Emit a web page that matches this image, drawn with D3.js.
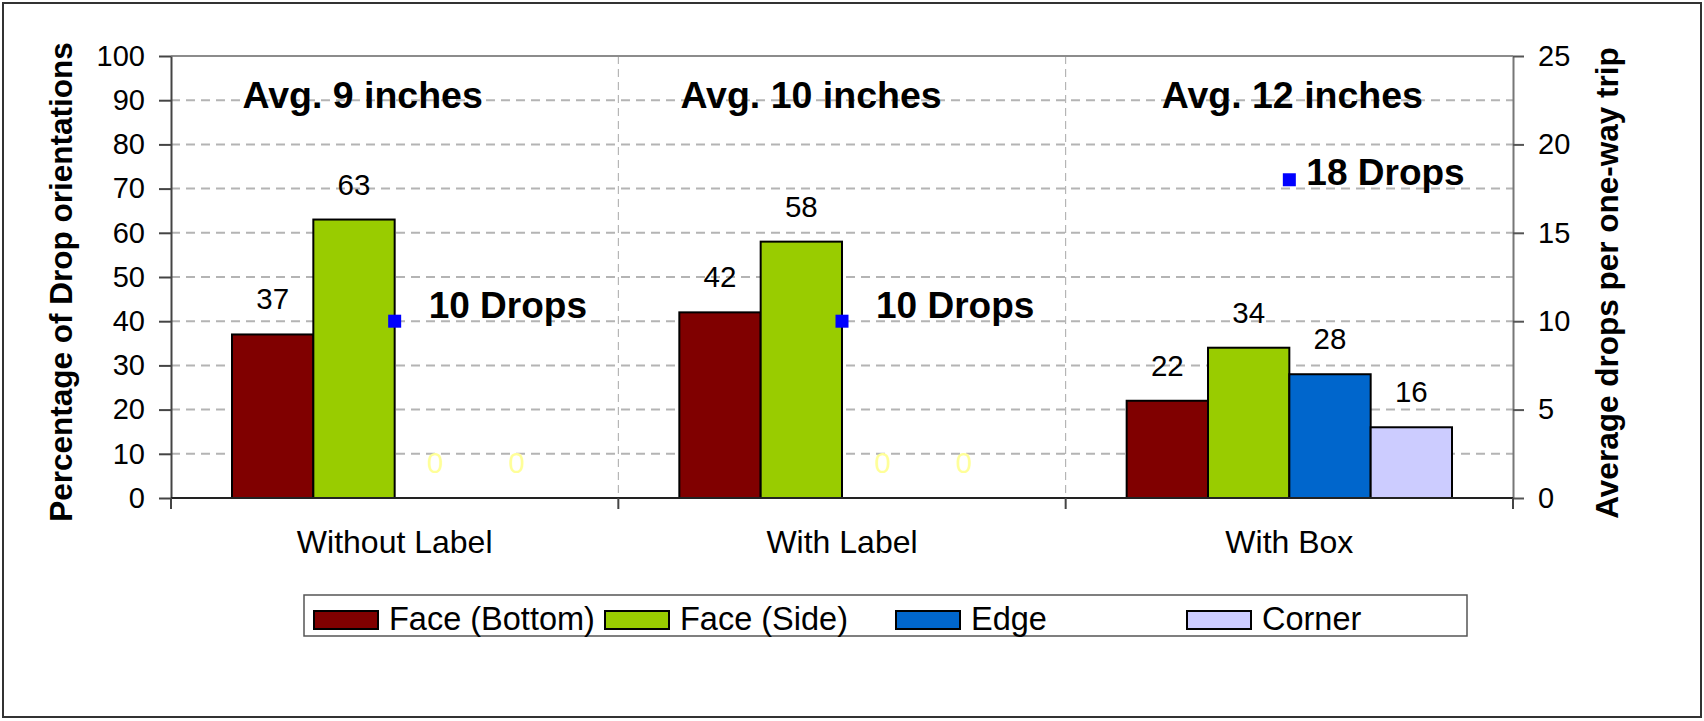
<!DOCTYPE html>
<html>
<head>
<meta charset="utf-8">
<script src="https://cdn.jsdelivr.net/npm/d3@7"></script>
<style>
body { margin: 0; background: #fff; }
text { font-family: "Liberation Sans", Arial, sans-serif; fill: #000; }
.tick text { font-size: 29px; }
.axis-title { font-size: 31.5px; font-weight: bold; }
.avg { font-size: 37.5px; font-weight: bold; }
.drops { font-size: 37px; font-weight: bold; }
.val { font-size: 29.5px; }
.cat-label { font-size: 32px; }
.legend-text { font-size: 32.5px; }
</style>
</head>
<body>
<div id="chart"></div>
<script>
/*global d3*/

var categories = ["Without Label", "With Label", "With Box"],
    series = ["Face (Bottom)", "Face (Side)", "Edge", "Corner"],
    colors = ["#800000", "#99cc00", "#0066cc", "#ccccff"],
    faceBottom = [37, 42, 22],
    faceSide = [63, 58, 34],
    edge = [0, 0, 28],
    corner = [0, 0, 16],
    avgDrops = [10, 10, 18],
    dropLabels = ["10 Drops", "10 Drops", "18 Drops"],
    avgLabels = ["Avg. 9 inches", "Avg. 10 inches", "Avg. 12 inches"],
    leftTicks = [0, 10, 20, 30, 40, 50, 60, 70, 80, 90, 100],
    rightTicks = [0, 5, 10, 15, 20, 25];

var widthGlobal = 1704,
    heightGlobal = 721,
    margin = {top: 56, right: 191, bottom: 223, left: 171},
    width = widthGlobal - margin.left - margin.right,
    height = heightGlobal - margin.top - margin.bottom,
    values = [faceBottom, faceSide, edge, corner];

// scales
var x0 = d3.scaleBand()
        .domain(categories)
        .range([0, width])
        .padding(0),
    x1 = d3.scaleBand()
        .domain(series)
        .range([0, x0.bandwidth()])
        .paddingInner(0)
        .paddingOuter(0.75),
    y = d3.scaleLinear().domain([0, 100]).range([height, 0]),
    y2 = d3.scaleLinear().domain([0, 25]).range([height, 0]),
    color = d3.scaleOrdinal().domain(series).range(colors);

var svg = d3.select("#chart").append("svg")
    .attr("width", widthGlobal)
    .attr("height", heightGlobal);

// outer frame
svg.append("rect")
    .attr("x", 3).attr("y", 3)
    .attr("width", widthGlobal - 6).attr("height", heightGlobal - 7)
    .attr("fill", "#fff")
    .attr("stroke", "#333")
    .attr("stroke-width", 2);

var g = svg.append("g")
    .attr("transform", "translate(" + margin.left + "," + margin.top + ")");

// grid
g.append("g").selectAll("line")
    .data(leftTicks.filter(function (d) { return d > 0 && d < 100; }))
    .enter().append("line")
    .attr("x1", 0).attr("x2", width)
    .attr("y1", function (d) { return y(d); })
    .attr("y2", function (d) { return y(d); })
    .attr("stroke", "#b4b4b4")
    .attr("stroke-width", 2)
    .attr("stroke-dasharray", "9,6");

g.append("g").selectAll("line")
    .data(categories.slice(1))
    .enter().append("line")
    .attr("x1", function (d) { return x0(d); })
    .attr("x2", function (d) { return x0(d); })
    .attr("y1", 0).attr("y2", height)
    .attr("stroke", "#a8a8a8")
    .attr("stroke-width", 1)
    .attr("stroke-dasharray", "8,5");

// top border of plot
g.append("line")
    .attr("x1", 0).attr("x2", width)
    .attr("y1", 0).attr("y2", 0)
    .attr("stroke", "#8c8c8c")
    .attr("stroke-width", 2);

// bars
var cat = g.append("g").selectAll(".cat")
    .data(categories)
    .enter().append("g")
    .attr("class", "cat")
    .attr("transform", function (d) { return "translate(" + x0(d) + ",0)"; });

cat.selectAll("rect")
    .data(function (d, i) { return series.map(function (s, j) { return {s: s, v: values[j][i]}; }); })
    .enter().append("rect")
    .attr("x", function (d) { return x1(d.s); })
    .attr("y", function (d) { return y(d.v); })
    .attr("width", x1.bandwidth())
    .attr("height", function (d) { return height - y(d.v); })
    .attr("fill", function (d) { return color(d.s); })
    .attr("stroke", function (d) { return d.v > 0 ? "#000" : "none"; })
    .attr("stroke-width", 2);

cat.selectAll(".val")
    .data(function (d, i) { return series.map(function (s, j) { return {s: s, v: values[j][i]}; }); })
    .enter().append("text")
    .attr("class", "val")
    .attr("text-anchor", "middle")
    .attr("x", function (d) { return x1(d.s) + x1.bandwidth() / 2; })
    .attr("y", function (d) { return y(d.v) - 25; })
    .style("fill", function (d) { return d.v > 0 ? "#000" : "#ffff99"; })
    .text(function (d) { return d.v; });

// axes
var leftAxis = g.append("g")
    .call(d3.axisLeft(y).tickValues(leftTicks).tickSize(12).tickSizeOuter(0).tickPadding(14));
leftAxis.select(".domain").attr("stroke", "#444").attr("stroke-width", 2);
leftAxis.selectAll(".tick line").attr("stroke", "#444").attr("stroke-width", 2);

var rightAxis = g.append("g")
    .attr("transform", "translate(" + width + ",0)")
    .call(d3.axisRight(y2).tickValues(rightTicks).tickSize(11).tickSizeOuter(0).tickPadding(14));
rightAxis.select(".domain").attr("stroke", "#777").attr("stroke-width", 2);
rightAxis.selectAll(".tick line").attr("stroke", "#555").attr("stroke-width", 2);

// x axis line and category ticks
g.append("line")
    .attr("x1", 0).attr("x2", width)
    .attr("y1", height).attr("y2", height)
    .attr("stroke", "#222")
    .attr("stroke-width", 2);
g.append("g").selectAll("line")
    .data(categories.map(function (d) { return x0(d); }).concat([width]))
    .enter().append("line")
    .attr("x1", function (d) { return d; })
    .attr("x2", function (d) { return d; })
    .attr("y1", height).attr("y2", height + 11)
    .attr("stroke", "#444")
    .attr("stroke-width", 2);

g.append("g").selectAll("text")
    .data(categories)
    .enter().append("text")
    .attr("class", "cat-label")
    .attr("text-anchor", "middle")
    .attr("x", function (d) { return x0(d) + x0.bandwidth() / 2; })
    .attr("y", height + 55)
    .text(function (d) { return d; });

// drops markers on the secondary axis
g.append("g").selectAll("rect")
    .data(avgDrops)
    .enter().append("rect")
    .attr("x", function (d, i) { return x0(categories[i]) + x0.bandwidth() / 2 - 6.5; })
    .attr("y", function (d) { return y2(d) - 6.5; })
    .attr("width", 13).attr("height", 13)
    .attr("fill", "#0000ff");

var dropOffsets = [[34, -3], [34, -3], [17, 5]];
g.append("g").selectAll("text")
    .data(avgDrops)
    .enter().append("text")
    .attr("class", "drops")
    .attr("x", function (d, i) { return x0(categories[i]) + x0.bandwidth() / 2 + dropOffsets[i][0]; })
    .attr("y", function (d, i) { return y2(d) + dropOffsets[i][1]; })
    .text(function (d, i) { return dropLabels[i]; });

var avgOffsets = [-32, -31, 3];
g.append("g").selectAll("text")
    .data(avgLabels)
    .enter().append("text")
    .attr("class", "avg")
    .attr("text-anchor", "middle")
    .attr("x", function (d, i) { return x0(categories[i]) + x0.bandwidth() / 2 + avgOffsets[i]; })
    .attr("y", 52)
    .text(function (d) { return d; });

// axis titles
svg.append("text")
    .attr("class", "axis-title")
    .attr("text-anchor", "middle")
    .attr("transform", "translate(72," + (margin.top + height / 2 + 5) + ") rotate(-90)")
    .text("Percentage of Drop orientations");
svg.append("text")
    .attr("class", "axis-title")
    .attr("text-anchor", "middle")
    .attr("transform", "translate(1618," + (margin.top + height / 2 + 6) + ") rotate(-90)")
    .text("Average drops per one-way trip");

// legend
var legend = svg.append("g").attr("transform", "translate(304,595)");
legend.append("rect")
    .attr("width", 1163).attr("height", 41)
    .attr("fill", "#fff")
    .attr("stroke", "#555")
    .attr("stroke-width", 1.5);
var item = legend.selectAll(".item")
    .data(series)
    .enter().append("g")
    .attr("transform", function (d, i) { return "translate(" + (10 + i * 291) + ",0)"; });
item.append("rect")
    .attr("y", 16).attr("width", 64).attr("height", 18)
    .attr("fill", function (d) { return color(d); })
    .attr("stroke", "#000")
    .attr("stroke-width", 2);
item.append("text")
    .attr("class", "legend-text")
    .attr("x", 75).attr("y", 35)
    .text(function (d) { return d; });
</script>
</body>
</html>
